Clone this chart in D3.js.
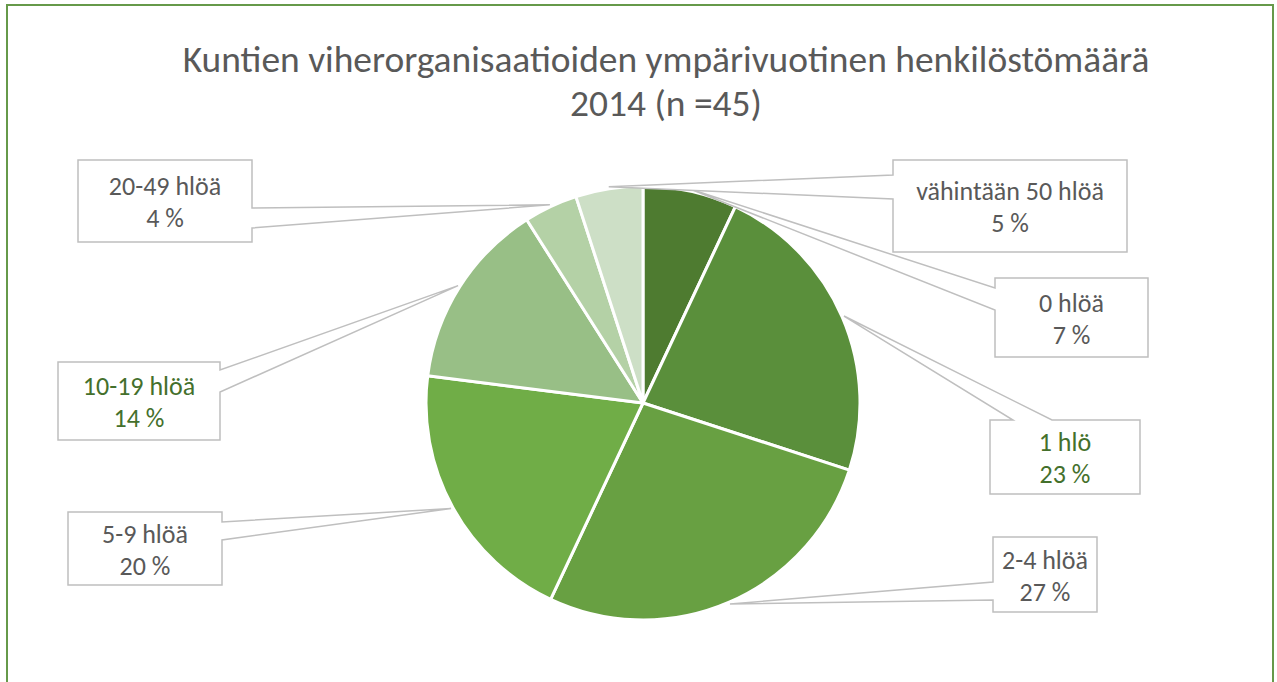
<!DOCTYPE html>
<html>
<head>
<meta charset="utf-8">
<script src="https://cdn.jsdelivr.net/npm/d3@7"></script>
<style>
  body { margin: 0; background: #fff; }
  svg { display: block; }
  text { font-family: Calibri, Carlito, "Open Sans", sans-serif; }
</style>
</head>
<body>
<div id="chart"></div>
<script>
(function() {
  var width = 1277, height = 682;

  // data (clockwise from 12 o'clock)
  var categories = ["0 hlöä", "1 hlö", "2-4 hlöä", "5-9 hlöä", "10-19 hlöä", "20-49 hlöä", "vähintään 50 hlöä"];
  var shares = [7, 23, 27, 20, 14, 4, 5];
  var titleLines = ["Kuntien viherorganisaatioiden ympärivuotinen henkilöstömäärä", "2014 (n =45)"];

  var sliceColors = ["#4e7b30", "#5a8f3b", "#68a042", "#70ad47", "#98bf86", "#b4d1a6", "#cddfc6"];
  var labelColors = ["#595959", "#44702c", "#595959", "#595959", "#44702c", "#595959", "#595959"];

  // callout boxes placed by hand like in the original chart
  var calloutLayout = [
    {x: 995, y: 278, w: 153, h: 79, side: "left",  a: 288,  b: 310},
    {x: 990, y: 420, w: 150, h: 74, side: "top",   a: 1013, b: 1052},
    {x: 993, y: 537, w: 104, h: 75, side: "left",  a: 582,  b: 600},
    {x: 68,  y: 512, w: 154, h: 73, side: "right", a: 522,  b: 540},
    {x: 58,  y: 362, w: 162, h: 78, side: "right", a: 370,  b: 392},
    {x: 78,  y: 160, w: 174, h: 82, side: "right", a: 208,  b: 228},
    {x: 893, y: 160, w: 234, h: 92, side: "left",  a: 175,  b: 199}
  ];

  var cx = 643, cy = 403, radius = 217;

  var svg = d3.select("#chart").append("svg")
      .attr("width", width)
      .attr("height", height);

  // chart frame
  svg.append("rect")
      .attr("x", 7).attr("y", 5)
      .attr("width", 1266).attr("height", 700)
      .attr("fill", "#fff")
      .attr("stroke", "#66994a")
      .attr("stroke-width", 2);

  // title, fitted to the width of the original line
  var title = svg.append("text")
      .attr("text-anchor", "middle")
      .attr("fill", "#595959")
      .style("font-size", "28px");
  title.selectAll("tspan")
      .data(titleLines)
    .enter().append("tspan")
      .attr("x", 666)
      .attr("y", function(d, i) { return 72 + i * 44; })
      .text(function(d) { return d; });
  var firstLen = title.select("tspan").node().getComputedTextLength();
  title.style("font-size", (28 * 967 / firstLen) + "px");

  var pie = d3.pie().sort(null).value(function(d) { return d.value; });
  var arcs = pie(categories.map(function(c, i) { return {name: c, value: shares[i], idx: i}; }));

  var arc = d3.arc().innerRadius(0).outerRadius(radius);
  var tipArc = d3.arc().innerRadius(radius + 2).outerRadius(radius + 2);

  var g = svg.append("g")
      .attr("transform", "translate(" + cx + "," + cy + ")");

  g.selectAll(".slice")
      .data(arcs)
    .enter().append("path")
      .attr("class", "slice")
      .attr("d", arc)
      .attr("fill", function(d) { return sliceColors[d.data.idx]; })
      .attr("stroke", "#fff")
      .attr("stroke-width", 3)
      .attr("stroke-linejoin", "round");

  // callout shape: rectangle with a wedge pointing to the slice
  var calloutPath = function(L, tip) {
    var x0 = L.x, y0 = L.y, x1 = L.x + L.w, y1 = L.y + L.h;
    var t = tip[0] + "," + tip[1];
    var p;
    if (L.side === "left") {
      p = ["M", x0, y0, "L", x1, y0, "L", x1, y1, "L", x0, y1, "L", x0, L.b, "L", t, "L", x0, L.a, "Z"];
    } else if (L.side === "right") {
      p = ["M", x0, y0, "L", x1, y0, "L", x1, L.a, "L", t, "L", x1, L.b, "L", x1, y1, "L", x0, y1, "Z"];
    } else {
      p = ["M", x0, y0, "L", L.a, y0, "L", t, "L", L.b, y0, "L", x1, y0, "L", x1, y1, "L", x0, y1, "Z"];
    }
    return p.join(" ");
  };

  var callouts = svg.selectAll(".callout")
      .data(arcs)
    .enter().append("g")
      .attr("class", "callout");

  callouts.append("path")
      .attr("d", function(d) {
        var c = tipArc.centroid(d);
        return calloutPath(calloutLayout[d.data.idx], [cx + c[0], cy + c[1]]);
      })
      .attr("fill", "#fff")
      .attr("stroke", "#bfbfbf")
      .attr("stroke-width", 1.5)
      .attr("stroke-linejoin", "miter");

  var labels = callouts.append("text")
      .attr("text-anchor", "middle")
      .attr("fill", function(d) { return labelColors[d.data.idx]; })
      .style("font-size", "26px");

  labels.append("tspan")
      .attr("x", function(d) { var L = calloutLayout[d.data.idx]; return L.x + L.w / 2; })
      .attr("y", function(d) { var L = calloutLayout[d.data.idx]; return L.y + L.h / 2 - 6; })
      .text(function(d) { return d.data.name; });
  labels.append("tspan")
      .attr("x", function(d) { var L = calloutLayout[d.data.idx]; return L.x + L.w / 2; })
      .attr("y", function(d) { var L = calloutLayout[d.data.idx]; return L.y + L.h / 2 + 26; })
      .text(function(d) { return d.data.value + " %"; });
})();
</script>
</body>
</html>
